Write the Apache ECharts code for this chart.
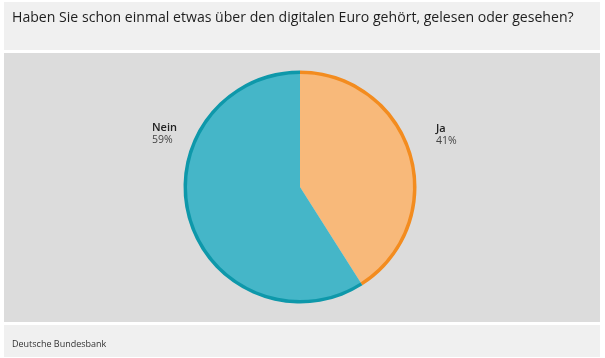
<!DOCTYPE html>
<html><head><meta charset="utf-8">
<script src="https://cdn.jsdelivr.net/npm/echarts@6/dist/echarts.min.js"></script>
<style>html,body{margin:0;padding:0;background:#fff}#c{width:605px;height:358px}</style>
</head><body><div id="c"></div>
<script>
var titleText = 'Haben Sie schon einmal etwas über den digitalen Euro gehört, gelesen oder gesehen?';
var sourceText = 'Deutsche Bundesbank';
var categories = ['Ja', 'Nein'];
var values = [41, 59];
var fillColors = ['#f8b97a', '#45b6c8'];
var edgeColors = ['#f38c1f', '#0e98aa'];
var labelPos = [[436, 122], [152, 121]];

var chart = echarts.init(document.getElementById('c'), null, {renderer: 'canvas'});
var fillData = categories.map(function (c, i) { return {name: c, value: values[i], itemStyle: {color: fillColors[i]}}; });
var edgeData = categories.map(function (c, i) { return {name: c, value: values[i], itemStyle: {color: edgeColors[i]}}; });
chart.setOption({
  animation: false,
  backgroundColor: '#ffffff',
  graphic: [
    {type: 'rect', shape: {x: 4, y: 2, width: 596, height: 48}, style: {fill: '#f0f0f0'}, z: -10},
    {type: 'rect', shape: {x: 4, y: 53, width: 596, height: 269}, style: {fill: '#dcdcdc'}, z: -10},
    {type: 'rect', shape: {x: 4, y: 325, width: 596, height: 32}, style: {fill: '#f0f0f0'}, z: -10},
    {type: 'text', left: 12, top: 11, style: {text: titleText, fill: '#1e1e1e', font: '14.1px "Open Sans", sans-serif'}},
    {type: 'text', left: 12, top: 340, style: {text: sourceText, fill: '#333', font: '9px "Open Sans", sans-serif'}}
  ],
  series: [
    {
      type: 'pie', center: [300, 187], radius: [0, 114], startAngle: 90, clockwise: true,
      silent: true, data: fillData,
      itemStyle: {borderWidth: 0},
      label: {
        show: true, position: 'outside',
        formatter: '{n|{b}}\n{p|{d}%}',
        rich: {
          n: {fontFamily: 'Open Sans', fontSize: 11, fontWeight: 600, color: '#222', lineHeight: 13},
          p: {fontFamily: 'Open Sans', fontSize: 10.5, color: '#444', lineHeight: 13}
        }
      },
      labelLine: {show: false},
      labelLayout: function (p) {
        var pos = labelPos[p.dataIndex];
        return {x: pos[0], y: pos[1], align: 'left', verticalAlign: 'top'};
      }
    },
    {
      type: 'pie', center: [300, 187], radius: [113, 116.5], startAngle: 90, clockwise: true,
      silent: true, data: edgeData, itemStyle: {borderWidth: 0},
      label: {show: false}, labelLine: {show: false}
    }
  ]
});
</script></body></html>
